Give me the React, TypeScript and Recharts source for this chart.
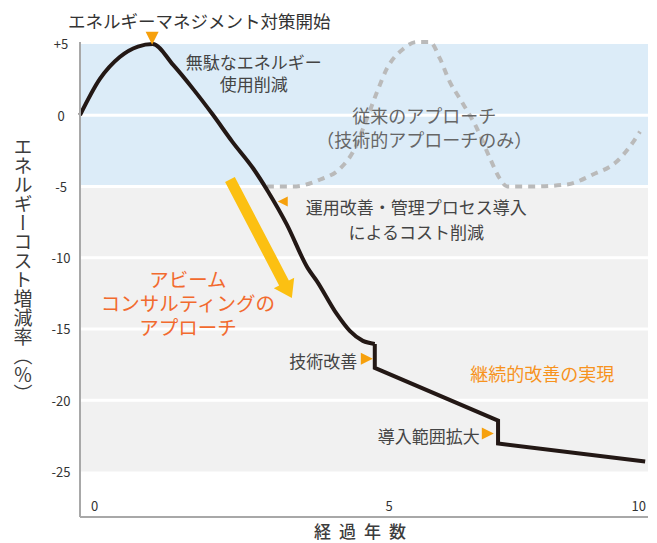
import {
  ComposedChart,
  Line,
  XAxis,
  YAxis,
  ReferenceArea,
  ReferenceLine,
  ReferenceDot,
  Label,
} from "recharts";

const FONT = "'Noto Sans CJK JP', 'Noto Sans', sans-serif";

// ABeam approach (black line), years vs. cost change (%)
const abeamYears = [0, 0.35, 0.7, 1.02, 1.28, 1.64, 1.99, 2.34, 2.68, 3.05, 3.31, 3.64, 4.01, 4.17, 4.52, 4.75, 4.98, 5.19, 5.19, 7.36, 7.36, 9.95];
const abeamCost = [0, 2.55, 4.09, 4.82, 5, 3.53, 1.85, 0.03, -1.85, -3.74, -5.35, -7.66, -10.73, -11.64, -13.95, -15.14, -15.84, -16.05, -17.73, -21.43, -23.04, -24.3];
// index where the smooth part ends and the stepped part starts
const stepStart = 17;

// conventional approach (grey dashed line)
const conventionalYears = [3.29, 3.75, 4.23, 4.58, 4.81, 5.05, 5.23, 5.4, 5.69, 5.93, 6.16, 6.34, 6.51, 6.69, 6.99, 7.22, 7.39, 7.52, 7.98, 8.57, 9.03, 9.45, 9.68, 9.86];
const conventionalCost = [-5, -5, -4.51, -3.74, -2.55, -0.24, 1.64, 3.25, 4.65, 5.14, 5.14, 3.95, 2.34, 1.15, -0.94, -3.04, -4.44, -5, -5, -4.86, -4.16, -3.25, -2.2, -1.15];

const yTicks = [5, 0, -5, -10, -15, -20, -25];
const xTicks = [0, 5, 10];
const blueBands = [[0, 5], [-5, 0]];
const grayBands = [[-10, -5], [-15, -10], [-20, -15], [-25, -20]];
const bandGaps = [0, -5, -10, -15, -20];

const abeamData = abeamYears.map((year, i) => ({ year, cost: abeamCost[i] }));
const abeamSmooth = abeamData.slice(0, stepStart + 1);
const abeamSteps = abeamData.slice(stepStart);
const conventionalData = conventionalYears.map((year, i) => ({ year, cost: conventionalCost[i] }));

type Note = {
  x: number;
  y: number;
  lines: string[];
  anchor: "start" | "middle" | "end";
  color: string;
  size: number;
  gap: number;
};

const notes: Note[] = [
  { x: -0.21, y: 6.68, lines: ["エネルギーマネジメント対策開始"], anchor: "start", color: "#333", size: 17.5, gap: 0 },
  { x: 3.06, y: 3.74, lines: ["無駄なエネルギー", "使用削減"], anchor: "middle", color: "#444", size: 17, gap: 22 },
  { x: 6.06, y: 0.03, lines: ["従来のアプローチ", "（技術的アプローチのみ）"], anchor: "middle", color: "#666", size: 18, gap: 24 },
  { x: 5.92, y: -6.4, lines: ["運用改善・管理プロセス導入", "によるコスト削減"], anchor: "middle", color: "#444", size: 17, gap: 25 },
  { x: 1.9, y: -11.43, lines: ["アビーム", "コンサルティングの", "アプローチ"], anchor: "middle", color: "#f26a2e", size: 19.5, gap: 24 },
  { x: 4.88, y: -17.24, lines: ["技術改善"], anchor: "end", color: "#444", size: 17, gap: 0 },
  { x: 6.87, y: -18.08, lines: ["継続的改善の実現"], anchor: "start", color: "#f7931e", size: 18, gap: 0 },
  { x: 7.04, y: -22.48, lines: ["導入範囲拡大"], anchor: "end", color: "#444", size: 17, gap: 0 },
];

type Marker = { x: number; y: number; dir: "down" | "left" | "right"; size: number };

const markers: Marker[] = [
  { x: 1.27, y: 5.4, dir: "down", size: 13 },
  { x: 3.57, y: -6.05, dir: "left", size: 10 },
  { x: 5.05, y: -17.1, dir: "right", size: 12 },
  { x: 7.18, y: -22.34, dir: "right", size: 12 },
];

const arrowFrom = { year: 2.64, cost: -4.51 };
const arrowTo = { year: 3.73, cost: -12.83 };

function triangle(cx: number, cy: number, dir: string, s: number) {
  const h = s / 2;
  if (dir === "down") return `${cx - h},${cy - h} ${cx + h},${cy - h} ${cx},${cy + h}`;
  if (dir === "left") return `${cx + h},${cy - h} ${cx + h},${cy + h} ${cx - h},${cy}`;
  return `${cx - h},${cy - h} ${cx - h},${cy + h} ${cx + h},${cy}`;
}

function ArrowShape(props: any) {
  const { x1, y1, x2, y2 } = props;
  const dx = x2 - x1;
  const dy = y2 - y1;
  const len = Math.sqrt(dx * dx + dy * dy);
  const ux = dx / len;
  const uy = dy / len;
  const nx = -uy;
  const ny = ux;
  const head = 17;
  const bx = x2 - ux * head;
  const by = y2 - uy * head;
  const sw = 5.5;
  const hw = 11.5;
  const pts = [
    [x1 + nx * sw, y1 + ny * sw],
    [bx + nx * sw, by + ny * sw],
    [bx + nx * hw, by + ny * hw],
    [x2, y2],
    [bx - nx * hw, by - ny * hw],
    [bx - nx * sw, by - ny * sw],
    [x1 - nx * sw, y1 - ny * sw],
  ];
  return <polygon points={pts.map((p) => p.join(",")).join(" ")} fill="#fcc012" />;
}

function XTick(props: any) {
  const { x, y, payload } = props;
  const v = payload.value;
  const anchor = v === 0 ? "start" : v === 10 ? "end" : "middle";
  const dx = v === 0 ? 11 : v === 10 ? -2 : 25;
  return (
    <text x={x + dx} y={y - 12} textAnchor={anchor} dominantBaseline="central" fontSize={13} fill="#333" fontFamily={FONT}>
      {v}
    </text>
  );
}

function YTick(props: any) {
  const { x, y, payload } = props;
  const v = payload.value;
  return (
    <text x={x} y={y} textAnchor="middle" dominantBaseline="central" fontSize={13} fill="#333" fontFamily={FONT}>
      {v > 0 ? `+${v}` : `${v}`}
    </text>
  );
}

export default function App() {
  return (
    <div style={{ width: 657, height: 543, background: "#fff" }}>
      <style>{`body{margin:0}`}</style>
      <ComposedChart width={657} height={543} margin={{ top: 42, right: 9, bottom: 0, left: 0 }}>
        <XAxis
          type="number"
          dataKey="year"
          domain={[0, 10]}
          ticks={xTicks}
          tick={<XTick />}
          tickLine={false}
          tickSize={0}
          tickMargin={0}
          height={26}
          axisLine={{ stroke: "#a8a8a8", strokeWidth: 2 }}
        >
          <Label
            content={(p: any) => {
              const vb = p.viewBox;
              return (
                <text x={vb.x + vb.width / 2} y={vb.y + 13} textAnchor="middle" dominantBaseline="central" fontSize={17} fill="#3c3c3c" fontFamily={FONT} fontWeight={500} letterSpacing={8}>
                  経過年数
                </text>
              );
            }}
          />
        </XAxis>
        <YAxis
          type="number"
          domain={[-28.2, 5]}
          ticks={yTicks}
          width={80}
          tick={<YTick />}
          tickLine={false}
          tickSize={0}
          tickMargin={19}
          axisLine={{ stroke: "#a8a8a8", strokeWidth: 2 }}
        >
          <Label
            content={() => (
              <text x={23} y={270} textAnchor="middle" fontSize={19} fill="#3c3c3c" fontFamily={FONT} style={{ writingMode: "vertical-rl" }}>
                エネルギーコスト増減率（％）
              </text>
            )}
          />
        </YAxis>

        {blueBands.map(([a, b]) => (
          <ReferenceArea key={`b${a}`} y1={a} y2={b} x1={0} x2={10} fill="#dcecf8" fillOpacity={1} stroke="none" />
        ))}
        {grayBands.map(([a, b]) => (
          <ReferenceArea key={`g${a}`} y1={a} y2={b} x1={0} x2={10} fill="#f1f1f1" fillOpacity={1} stroke="none" />
        ))}
        {bandGaps.map((v) => (
          <ReferenceLine key={`l${v}`} y={v} stroke="#fff" strokeWidth={3} />
        ))}

        <Line
          data={conventionalData}
          dataKey="cost"
          type="monotone"
          stroke="#bababa"
          strokeWidth={4}
          strokeDasharray="7 6"
          dot={false}
          activeDot={false}
          isAnimationActive={false}
        />
        <Line
          data={abeamSmooth}
          dataKey="cost"
          type="monotone"
          stroke="#231815"
          strokeWidth={4}
          strokeLinejoin="round"
          dot={false}
          activeDot={false}
          isAnimationActive={false}
        />
        <Line
          data={abeamSteps}
          dataKey="cost"
          type="linear"
          stroke="#231815"
          strokeWidth={4}
          dot={false}
          activeDot={false}
          isAnimationActive={false}
        />

        <ReferenceLine
          segment={[
            { x: arrowFrom.year, y: arrowFrom.cost },
            { x: arrowTo.year, y: arrowTo.cost },
          ]}
          shape={(p: any) => <ArrowShape {...p} />}
        />

        {markers.map((m, i) => (
          <ReferenceDot
            key={`m${i}`}
            x={m.x}
            y={m.y}
            r={1}
            ifOverflow="visible"
            shape={(p: any) => <polygon points={triangle(p.cx, p.cy, m.dir, m.size)} fill="#f6a00c" />}
          />
        ))}

        {notes.map((n, i) => (
          <ReferenceDot
            key={`n${i}`}
            x={n.x}
            y={n.y}
            r={1}
            ifOverflow="visible"
            shape={(p: any) => (
              <g>
                {n.lines.map((line, j) => (
                  <text
                    key={j}
                    x={p.cx}
                    y={p.cy + j * n.gap}
                    textAnchor={n.anchor}
                    dominantBaseline="central"
                    fontSize={n.size}
                    fill={n.color}
                    fontFamily={FONT}
                  >
                    {line}
                  </text>
                ))}
              </g>
            )}
          />
        ))}
      </ComposedChart>
    </div>
  );
}
